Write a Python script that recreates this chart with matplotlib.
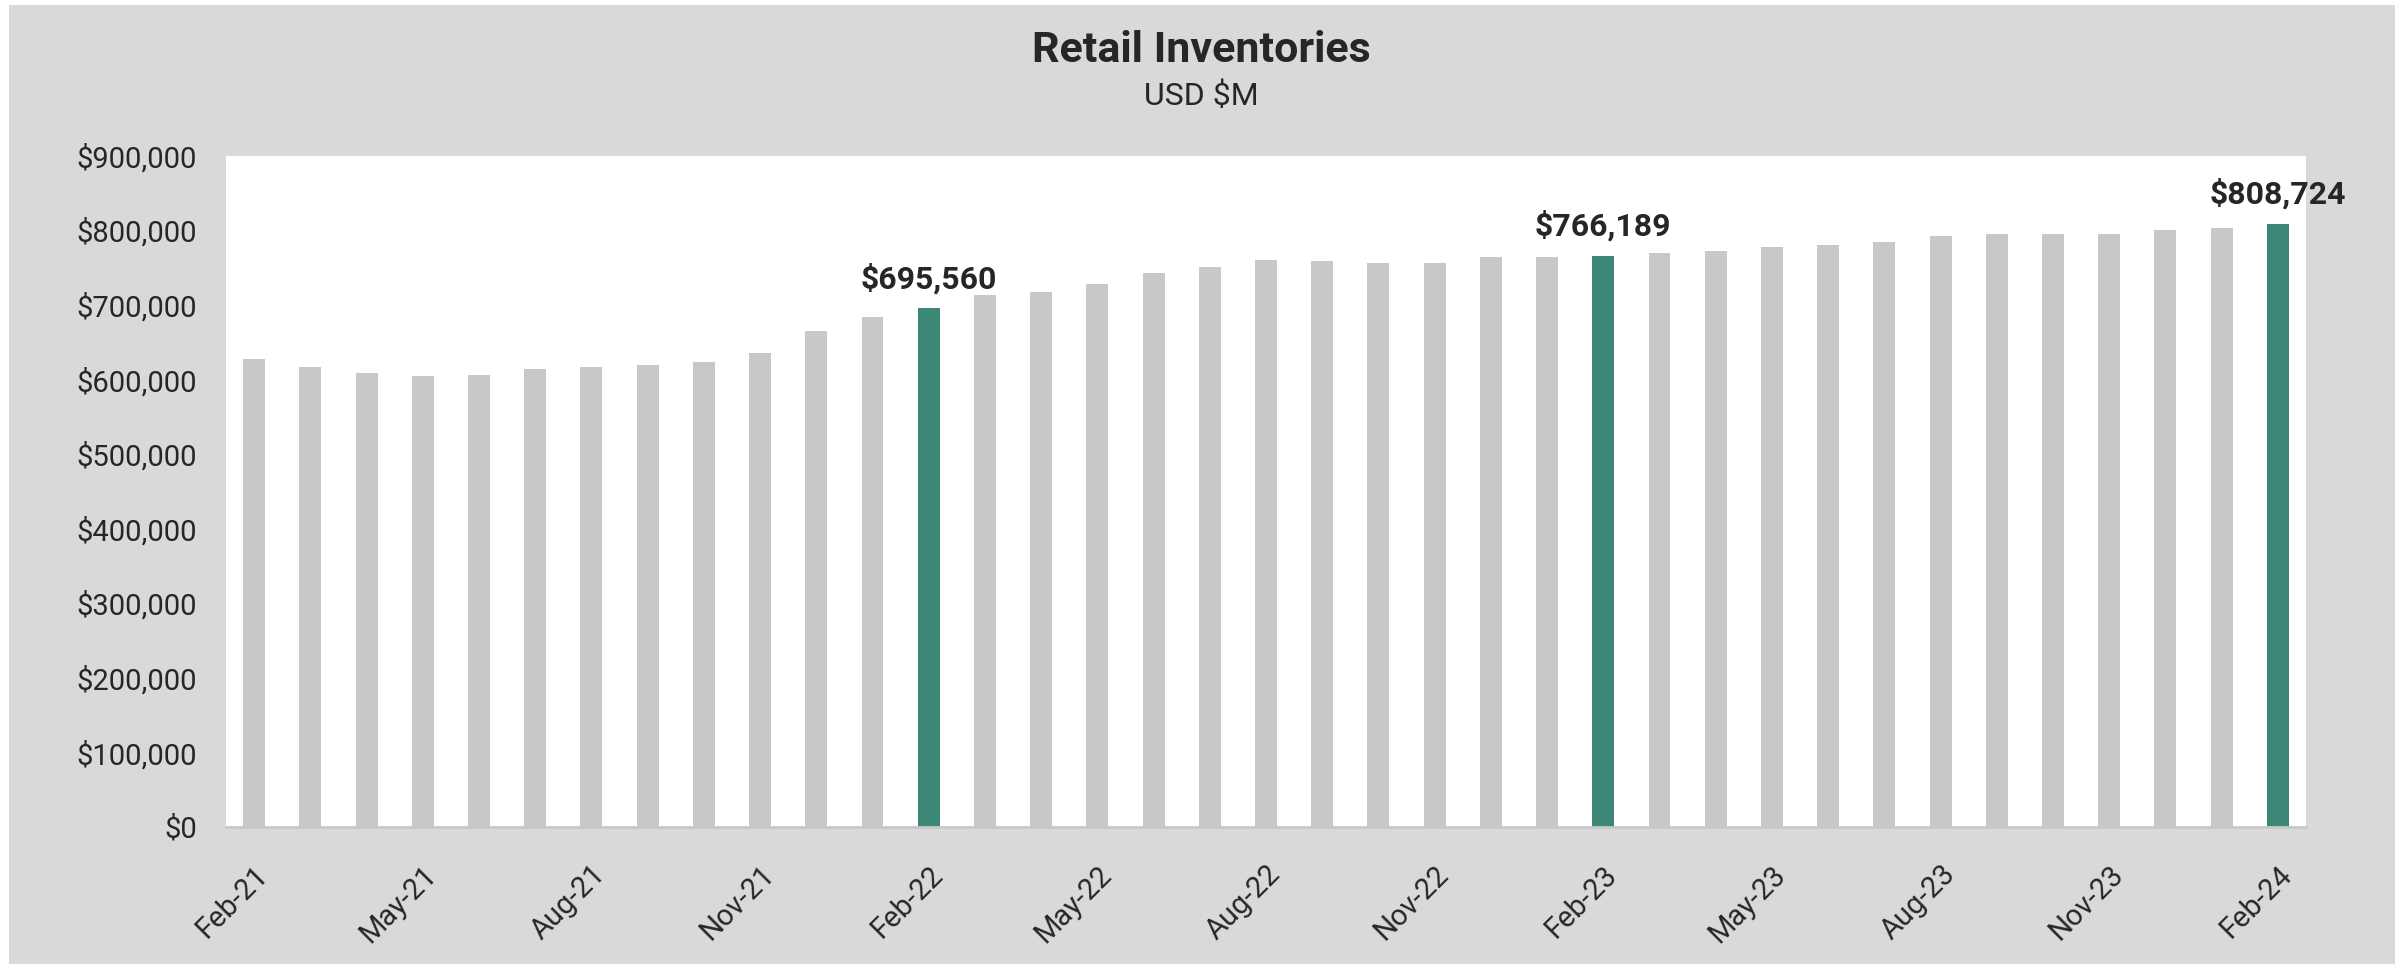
import numpy as np
import matplotlib.pyplot as plt
from matplotlib.patches import Rectangle

plt.rcParams['font.family'] = ['Roboto', 'DejaVu Sans']

# monthly retail inventories, USD $M (Feb-21 .. Feb-24)
months = ['Feb-21', 'Mar-21', 'Apr-21', 'May-21', 'Jun-21', 'Jul-21', 'Aug-21', 'Sep-21', 'Oct-21',
          'Nov-21', 'Dec-21', 'Jan-22', 'Feb-22', 'Mar-22', 'Apr-22', 'May-22', 'Jun-22', 'Jul-22',
          'Aug-22', 'Sep-22', 'Oct-22', 'Nov-22', 'Dec-22', 'Jan-23', 'Feb-23', 'Mar-23', 'Apr-23',
          'May-23', 'Jun-23', 'Jul-23', 'Aug-23', 'Sep-23', 'Oct-23', 'Nov-23', 'Dec-23', 'Jan-24',
          'Feb-24']
inventories = [626800, 616400, 608300, 605200, 605600, 614100, 616400, 619100, 623600,
               635300, 664900, 683700, 695560, 713300, 716900, 728100, 743400, 751000,
               760400, 758700, 756000, 755600, 763600, 764800, 766189, 769800, 772000,
               777000, 780500, 784000, 792500, 795300, 795300, 795300, 799800, 803400,
               808724]
highlight = ['Feb-22', 'Feb-23', 'Feb-24']

GRAY = '#c8c8c8'
GREEN = '#3d8776'
BG = '#d9d9d9'
TXT = '#262626'

fig = plt.figure(figsize=(24.05, 9.64), dpi=100)
fig.patch.set_facecolor('white')
fig.patches.append(Rectangle((9 / 2405, 0), (2395 - 9) / 2405, (964 - 5) / 964,
                             transform=fig.transFigure, facecolor=BG, edgecolor='none', zorder=-10))

ax = fig.add_axes([226 / 2405, (964 - 827) / 964, (2306 - 226) / 2405, (827 - 155.7) / 964])
ax.set_facecolor('white')

x = np.arange(len(months))
colors = [GREEN if m in highlight else GRAY for m in months]
ax.bar(x, inventories, width=0.39, color=colors, zorder=2)

for i, m in enumerate(months):
    if m in highlight:
        ax.annotate('${:,}'.format(inventories[i]), (x[i], inventories[i]), xytext=(0, 10),
                    textcoords='offset points', ha='center', va='bottom',
                    fontsize=23, fontweight='bold', color=TXT)

ax.set_xlim(-0.5, len(months) - 0.5)
ax.set_ylim(0, 900000)
ax.set_yticks(np.arange(0, 900001, 100000))
ax.set_yticklabels(['${:,}'.format(v) for v in range(0, 900001, 100000)])
ax.tick_params(axis='y', length=0, pad=21, labelsize=21, labelcolor=TXT)

tick_idx = x[::3]
ax.set_xticks(tick_idx)
ax.set_xticklabels([months[i] for i in tick_idx], rotation=45, ha='right', rotation_mode='anchor')
ax.tick_params(axis='x', length=0, pad=24, labelsize=21, labelcolor=TXT)

for s in ['top', 'right', 'left']:
    ax.spines[s].set_visible(False)
ax.spines['bottom'].set_color('#c8c8c8')
ax.spines['bottom'].set_linewidth(2)

fig.text(1201 / 2405, 1 - 51 / 964, 'Retail Inventories', ha='center', va='center',
         fontsize=31, fontweight='bold', color=TXT)
fig.text(1201 / 2405, 1 - 96 / 964, 'USD $M', ha='center', va='center', fontsize=23, color=TXT)

fig.savefig('out.png', dpi=100, facecolor=fig.get_facecolor())
